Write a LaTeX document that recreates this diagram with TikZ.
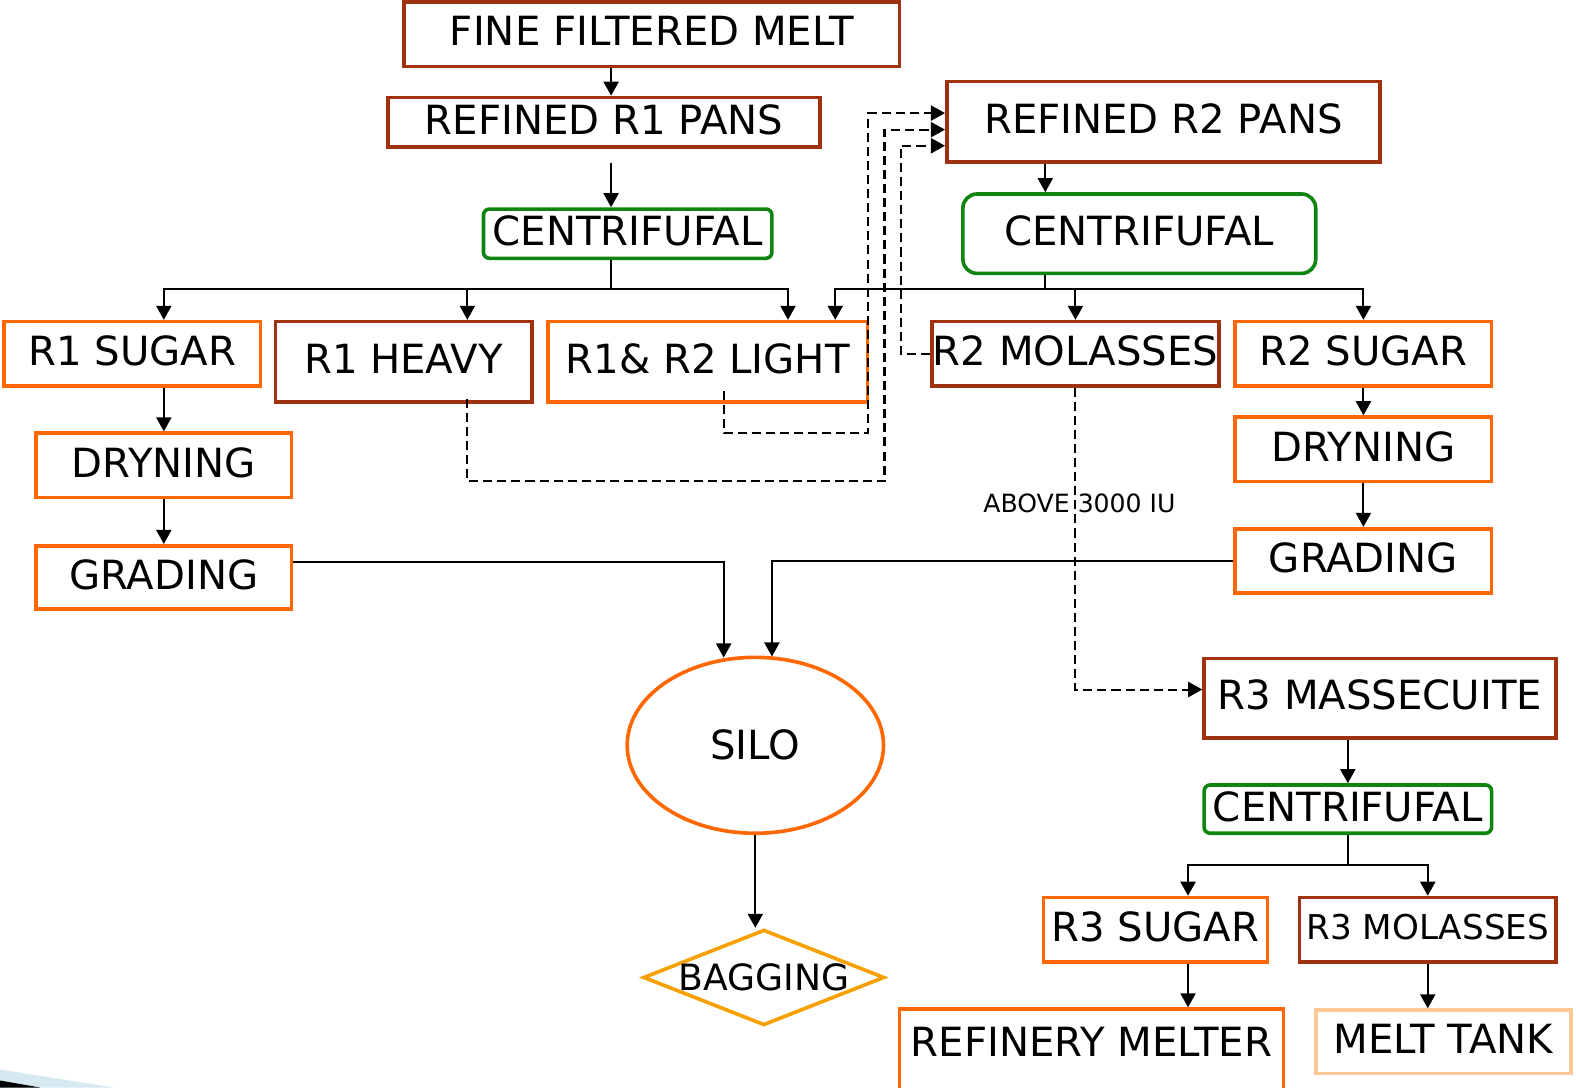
\documentclass[tikz,border=0pt]{standalone}
\usepackage{fontspec}
\setmainfont{DejaVu Sans}
\usetikzlibrary{shapes.geometric,arrows.meta}
\definecolor{cbrown}{RGB}{158,50,14}
\definecolor{corange}{RGB}{255,104,0}
\definecolor{cgreen}{RGB}{16,132,16}
\definecolor{cbag}{RGB}{247,160,0}
\definecolor{cmelt}{RGB}{255,200,150}
\definecolor{cdeco}{RGB}{214,232,240}
\tikzset{
  box/.style={draw, line width=1.8pt, inner sep=0pt, align=center, text depth=3pt, font=\fontsize{20}{24}\selectfont},
  bbox/.style={box, draw=cbrown},
  obox/.style={box, draw=corange},
  gbox/.style={box, draw=cgreen},
  arr/.style={line width=1pt, -{Triangle[length=7pt,width=7.5pt]}},
  ln/.style={line width=1pt},
  dashln/.style={line width=1pt, dash pattern=on 4.5pt off 2.5pt},
  darr/.style={dashln, -{Triangle[length=7pt,width=7.5pt]}}
}
\begin{document}
\begin{tikzpicture}[x=0.5pt,y=-0.5pt]
\clip (0,0) rectangle (1568,1082);
\fill[white] (0,0) rectangle (1568,1082);
% decoration bottom-left
\fill[cdeco] (0,1064) -- (113,1082) -- (0,1082) -- cycle;
\fill[black] (0,1075) -- (40,1082) -- (0,1082) -- cycle;

% nodes
\node[bbox, minimum width=246.5pt, minimum height=32pt] (ffm) at (648.5,34) {FINE FILTERED MELT};
\node[bbox, minimum width=215pt, minimum height=24.5pt] (r1pans) at (601,121.5) {REFINED R1 PANS};
\node[gbox, rounded corners=3pt, minimum width=143.5pt, minimum height=24.5pt] (cenL) at (624.5,232.5) {CENTRIFUFAL};
\node[bbox, minimum width=215.5pt, minimum height=40pt] (r2pans) at (1157.5,121) {REFINED R2 PANS};
\node[gbox, rounded corners=7pt, minimum width=175.5pt, minimum height=39.5pt] (cenR) at (1133.5,232.5) {CENTRIFUFAL};

\node[obox, minimum width=127.5pt, minimum height=32pt] (r1sugar) at (131.5,352) {R1 SUGAR};
\node[bbox, minimum width=127.5pt, minimum height=40pt] (r1heavy) at (401.5,360) {R1 HEAVY};
\node[obox, minimum width=159pt, minimum height=40pt] (light) at (704,360) {R1\& R2 LIGHT};
\node[bbox, minimum width=143pt, minimum height=32pt] (r2mol) at (1070,352) {R2 MOLASSES};
\node[obox, minimum width=127.5pt, minimum height=32pt] (r2sugar) at (1356.5,352) {R2 SUGAR};

\node[obox, minimum width=127pt, minimum height=32pt] (dryL) at (163,463) {DRYNING};
\node[obox, minimum width=127pt, minimum height=31.5pt] (gradL) at (163,574.5) {GRADING};
\node[obox, minimum width=127.5pt, minimum height=32pt] (dryR) at (1356.5,447) {DRYNING};
\node[obox, minimum width=127.5pt, minimum height=32pt] (gradR) at (1356.5,558) {GRADING};

\node[ellipse, draw=corange, line width=1.8pt, inner sep=0pt, minimum width=127.5pt, minimum height=87.5pt, font=\fontsize{20}{24}\selectfont] (silo) at (751.5,741.5) {SILO};
\node[diamond, draw=cbag, line width=1.8pt, inner sep=0pt, aspect=2.5, minimum width=120pt, minimum height=47.5pt, font=\fontsize{18}{22}\selectfont] (bag) at (760,972.5) {BAGGING};

\node[bbox, minimum width=175pt, minimum height=39.5pt] (r3mass) at (1373,694.5) {R3 MASSECUITE};
\node[gbox, rounded corners=3pt, minimum width=143pt, minimum height=24pt] (cenB) at (1341,805) {CENTRIFUFAL};
\node[obox, minimum width=111.5pt, minimum height=32pt] (r3sugar) at (1149.5,925) {R3 SUGAR};
\node[bbox, minimum width=127.5pt, minimum height=32pt, font=\fontsize{17}{20}\selectfont] (r3mol) at (1420.5,925) {R3 MOLASSES};
\node[obox, minimum width=191pt, minimum height=43pt, text depth=10pt] (melter) at (1086,1047) {REFINERY MELTER};
\node[box, draw=cmelt, minimum width=127pt, minimum height=31.5pt] (melttank) at (1436,1036.5) {MELT TANK};

\node[anchor=west, inner sep=0pt, font=\fontsize{12.5}{15}\selectfont] (above) at (978,501) {ABOVE 3000 IU};

% coordinates
\coordinate (c1) at (608,0);
\coordinate (busL) at (608,288);
\coordinate (busR) at (1040,288);
\coordinate (busB) at (1341,861);
\coordinate (d1) at (864,431);
\coordinate (d2) at (880,479);
\coordinate (d3) at (896,352);

% solid connectors
\draw[arr] (ffm.south -| c1) -- (r1pans.north -| c1);
\draw[arr] ([yshift=-7pt]r1pans.south -| c1) -- (cenL.north -| c1);
\draw[ln] (cenL.south -| busL) -- (busL);
\draw[arr] (busL) -| (r1sugar.north -| dryL);
\draw[arr] (busL) -| ([xshift=31.75pt]r1heavy.north);
\draw[arr] (busL) -| ([xshift=40pt]light.north);

\draw[arr] (r2pans.south -| busR) -- (cenR.north -| busR);
\draw[ln] (cenR.south -| busR) -- (busR);
\draw[arr] (busR) -| ([xshift=63.5pt]light.north);
\draw[arr] (busR) -| (r2mol.north);
\draw[arr] (busR) -| (r2sugar.north);

\draw[arr] (r1sugar.south -| dryL) -- (dryL.north);
\draw[arr] (dryL.south) -- (gradL.north);
\draw[arr] (r2sugar.south) -- (dryR.north);
\draw[arr] (dryR.south) -- (gradR.north);

\draw[arr] ([yshift=7.75pt]gradL.east) -| ([xshift=-15.75pt,yshift=-1pt]silo.north);
\draw[arr] (gradR.west) -| ([xshift=8.25pt,yshift=-0.5pt]silo.north);
\draw[arr] (silo.south) -- (silo.south |- bag.north);

\draw[arr] (r3mass.south -| cenB) -- (cenB.north);
\draw[ln] (cenB.south) -- (busB);
\draw[arr] (busB) -| ([xshift=16.25pt]r3sugar.north);
\draw[arr] (busB) -| (r3mol.north);
\draw[arr] ([xshift=16.25pt]r3sugar.south) -- ([xshift=16.25pt]r3sugar.south |- melter.north);
\draw[arr] (r3mol.south) -- (r3mol.south |- melttank.north);

% dashed connectors
\draw[darr] ([xshift=8pt,yshift=6.5pt]light.south) |- (d1) |- ([yshift=4.25pt]r2pans.west);
\draw[darr] ([xshift=31.75pt,yshift=2.5pt]r1heavy.south) |- (d2) |- ([yshift=-4pt]r2pans.west);
\draw[darr] (r2mol.west) -- (d3) |- ([yshift=-12pt]r2pans.west);
\draw[darr] (r2mol.south) |- ([yshift=4.25pt]r3mass.west);
\end{tikzpicture}
\end{document}
